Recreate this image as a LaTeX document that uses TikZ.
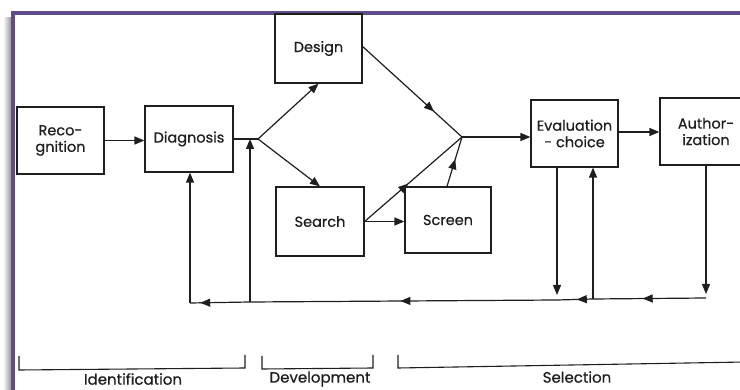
\documentclass[tikz,border=0pt]{standalone}
\usepackage{fontspec}
\setmainfont{Poppins}[FakeBold=0.6]
\usetikzlibrary{arrows.meta,decorations.markings}
\definecolor{frame}{RGB}{96,76,136}
\definecolor{ink}{RGB}{30,30,30}
\tikzset{
  box/.style={draw=ink, line width=1.2pt, align=center, inner sep=0pt,
    text=ink, font=\fontsize{14.5}{16.5}\selectfont},
  conn/.style={draw=ink, line width=1.2pt},
  endarrow/.style={conn, -{Triangle[length=10pt,width=8pt,fill=ink]}},
  midarrow/.style={conn, postaction={decorate}, decoration={markings,
    mark=at position #1 with {\arrow{Triangle[length=10pt,width=8pt,fill=ink]}}}},
  brk/.style={draw=ink, line width=1.1pt},
  lbl/.style={text=ink, font=\fontsize{15}{17}\selectfont, inner sep=0pt}
}
\begin{document}
\begin{tikzpicture}[x=1pt,y=-1pt]
\useasboundingbox (0,0) rectangle (740,390);
\clip (0,0) rectangle (740,390);
% frame
\shade[left color=white, right color=black!40] (3,18) rectangle (11,390);
\fill[frame] (11,11) rectangle (740,15);
\fill[frame] (11,11) rectangle (15,390);
% boxes
\node[box, minimum width=87pt, minimum height=67pt] (rec) at (60.5,140.5) {Reco-\\gnition};
\node[box, minimum width=88pt, minimum height=66pt] (diag) at (189,139) {Diagnosis};
\node[box, minimum width=87pt, minimum height=69pt] (design) at (318.5,48.5) {Design};
\node[box, minimum width=88pt, minimum height=69pt] (search) at (320,221.5) {Search};
\node[box, minimum width=86pt, minimum height=66pt] (screen) at (448,220) {Screen};
\node[box, minimum width=87pt, minimum height=67pt] (eval) at (574.5,133.5) {Evaluation\\- choice};
\node[box, minimum width=92pt, minimum height=67pt] (auth) at (706,131.5) {Author-\\ization};
% junction coordinates
\coordinate (j1) at (258,139);
\coordinate (j2) at (462,137);
\coordinate (br) at (706,298);
\coordinate (b3) at (593,299);
\coordinate (b2) at (557,300);
\coordinate (b1) at (250,302);
\coordinate (bl) at (190,303);
% connectors
\draw[endarrow] (rec.east) -- (rec.east -| diag.west);
\draw[conn] (diag.east) -- (j1);
\draw[endarrow] (j1) -- (design.south);
\draw[endarrow] (j1) -- (search.north);
\draw[midarrow=0.72] ([yshift=2pt]design.east) -- (j2);
\draw[midarrow=0.45] (search.east) -- (j2);
\draw[endarrow] (search.east) -- (search.east -| screen.west);
\draw[midarrow=0.55] ([xshift=-1pt]screen.north) -- (j2);
\draw[endarrow] (j2) -- (j2 -| eval.west);
\draw[endarrow] ([yshift=1.5pt]eval.east) -- ([yshift=1.5pt]eval.east -| auth.west);
\draw[endarrow, shorten >=4pt] (auth.south) -- (br);
\draw[midarrow=0.56] (br) -- (b3);
\draw[midarrow=0.45] (b3) -- (b2);
\draw[midarrow=0.51] (b2) -- (b1);
\draw[midarrow=0.83] (b1) -- (bl);
\draw[endarrow] (bl) -- (bl |- diag.south);
\draw[endarrow] (b1) -- (b1 |- j1);
\draw[endarrow, shorten >=5pt] ([xshift=-17.5pt]eval.south) -- ([xshift=-17.5pt]eval.south |- b2);
\draw[endarrow] (b3) -- (b3 |- eval.south);
% phase brackets
\draw[brk] (19,356) -- (19,370) -- (245,368) -- (245,355);
\draw[brk] (262,356) -- (262,369) -- (373,368) -- (373,355);
\draw[brk] (398,355) -- (398,368) -- (745,362);
\node[lbl] (lid) at (133,379) {Identification};
\node[lbl] (ldev) at (320,379) {Development};
\node[lbl] (lsel) at (577,377) {Selection};
\end{tikzpicture}
\end{document}
